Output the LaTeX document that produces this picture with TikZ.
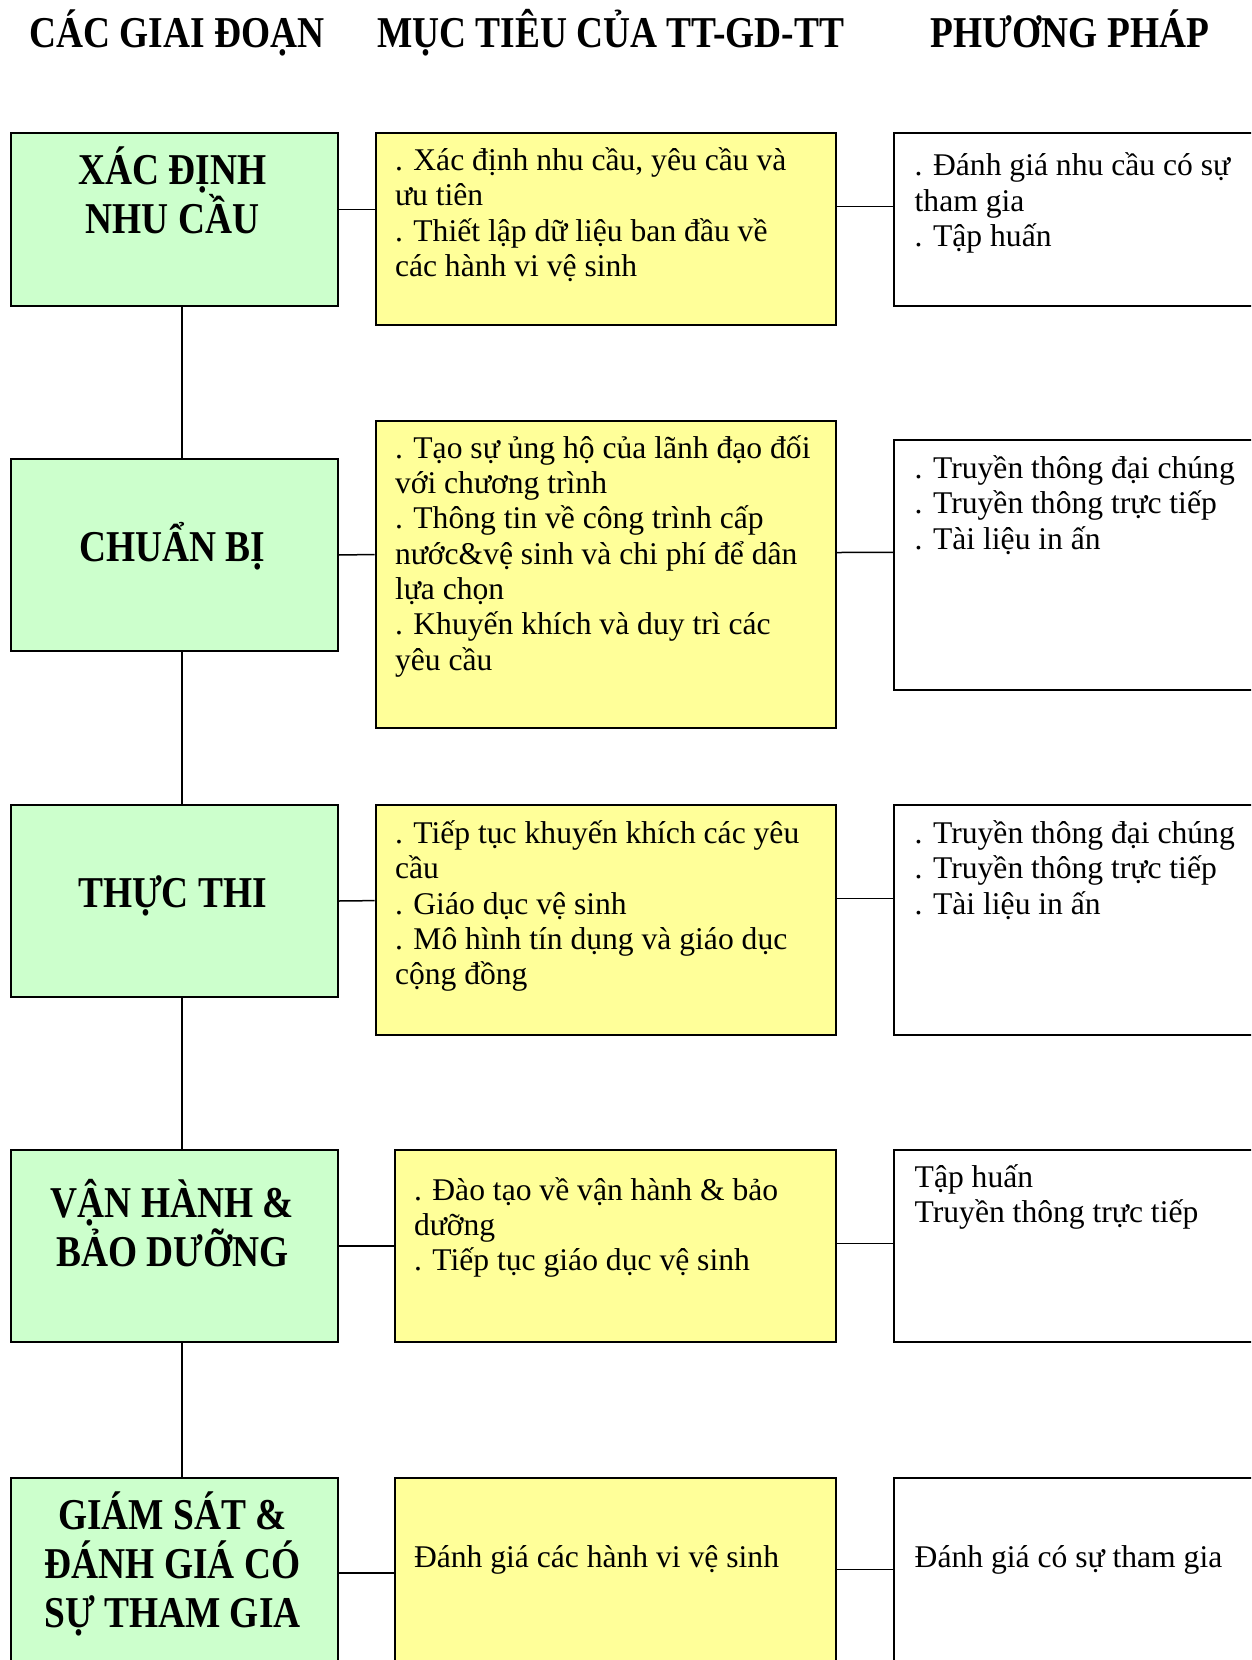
\documentclass[tikz,border=0pt]{standalone}
\usepackage{fontspec}
\setmainfont{Liberation Serif}
\newfontfamily\stagefont[FakeStretch=0.85]{Liberation Serif}
\definecolor{stagegreen}{HTML}{CCFFCC}
\definecolor{goalyellow}{HTML}{FFFF99}
\tikzset{
  box/.style={draw, line width=2pt, anchor=north west, inner sep=0pt},
  stage/.style={box, fill=stagegreen, minimum width=327pt},
  goal/.style={box, fill=goalyellow},
  method/.style={box, fill=white, minimum width=420pt},
  link/.style={line width=1.5pt},
  heading/.style={font=\stagefont\bfseries\fontsize{44}{49}\selectfont, anchor=base, inner sep=0pt},
  stagetext/.style={heading, align=center},
  bodytext/.style={font=\fontsize{31.6}{35.3}\selectfont, align=left, anchor=base west, inner sep=0pt}
}
\begin{document}
\begin{tikzpicture}[x=1pt,y=-1pt]
  \useasboundingbox (0,0) rectangle (1251,1660);
  \clip (0,0) rectangle (1251,1660);

  % column headings
  \node[heading] (h1) at (176.7,47.6) {CÁC GIAI ĐOẠN};
  \node[heading] (h2) at (610.7,47.6) {MỤC TIÊU CỦA TT-GD-TT};
  \node[heading] (h3) at (1070,47.6)  {PHƯƠNG PHÁP};

  % stages
  \node[stage, minimum height=173pt] (g1) at (9.5,132)  {};
  \node[stage, minimum height=192pt] (g2) at (9.5,458)  {};
  \node[stage, minimum height=192pt] (g3) at (9.5,804)  {};
  \node[stage, minimum height=192pt] (g4) at (9.5,1149) {};
  \node[stage, minimum height=190pt] (g5) at (9.5,1477) {};

  % goals
  \node[goal, minimum width=460pt, minimum height=192pt] (m1) at (374.7,132)  {};
  \node[goal, minimum width=460pt, minimum height=307pt] (m2) at (374.7,420)  {};
  \node[goal, minimum width=460pt, minimum height=230pt] (m3) at (374.7,804)  {};
  \node[goal, minimum width=441pt, minimum height=192pt] (m4) at (393.7,1149) {};
  \node[goal, minimum width=441pt, minimum height=190pt] (m5) at (393.7,1477) {};

  % methods
  \node[method, minimum height=173pt] (p1) at (893,132)  {};
  \node[method, minimum height=250pt] (p2) at (893,439)  {};
  \node[method, minimum height=230pt] (p3) at (893,804)  {};
  \node[method, minimum height=192pt] (p4) at (893,1149) {};
  \node[method, minimum height=190pt] (p5) at (893,1477) {};

  % texts (placed by the baseline of their last line)
  \node[stagetext] (g1t) at (172.5,233)  {XÁC ĐỊNH\\NHU CẦU};
  \node[stagetext] (g2t) at (172.5,561)  {CHUẨN BỊ};
  \node[stagetext] (g3t) at (172.5,907)  {THỰC THI};
  \node[stagetext] (g4t) at (172.5,1266) {VẬN HÀNH \&\\BẢO DƯỠNG};
  \node[stagetext] (g5t) at (172.5,1627) {GIÁM SÁT \&\\ĐÁNH GIÁ CÓ\\SỰ THAM GIA};

  \node[bodytext] (m1t) at (394.8,276.3) {. Xác định nhu cầu, yêu cầu và\\ưu tiên\\. Thiết lập dữ liệu ban đầu về\\các hành vi vệ sinh};
  \node[bodytext] (m2t) at (394.8,670.1) {. Tạo sự ủng hộ của lãnh đạo đối\\với chương trình\\. Thông tin về công trình cấp\\nước\&vệ sinh và chi phí để dân\\lựa chọn\\. Khuyến khích và duy trì các\\yêu cầu};
  \node[bodytext] (m3t) at (394.8,984.7) {. Tiếp tục khuyến khích các yêu\\cầu\\. Giáo dục vệ sinh\\. Mô hình tín dụng và giáo dục\\cộng đồng};
  \node[bodytext] (m4t) at (413.8,1270.6) {. Đào tạo về vận hành \& bảo\\dưỡng\\. Tiếp tục giáo dục vệ sinh};
  \node[bodytext] (m5t) at (413.8,1567.5) {Đánh giá các hành vi vệ sinh};

  \node[bodytext] (p1t) at (914.5,246.3) {. Đánh giá nhu cầu có sự\\tham gia\\. Tập huấn};
  \node[bodytext] (p2t) at (914.5,549)   {. Truyền thông đại chúng\\. Truyền thông trực tiếp\\. Tài liệu in ấn};
  \node[bodytext] (p3t) at (914.5,914.1) {. Truyền thông đại chúng\\. Truyền thông trực tiếp\\. Tài liệu in ấn};
  \node[bodytext] (p4t) at (914.5,1222.8) {Tập huấn\\Truyền thông trực tiếp};
  \node[bodytext] (p5t) at (914.5,1567.5) {Đánh giá có sự tham gia};

  % connectors
  \coordinate (spine) at (182,0);
  \foreach \a/\b in {g1/g2, g2/g3, g3/g4, g4/g5}
    \draw[link] (\a.south -| spine) -- (\b.north -| spine);

  \draw[link] ([yshift=10pt]g1.east) -- ([yshift=19.5pt]m1.west);
  \draw[link] (g2.east) -- ([yshift=20pt]m2.west);
  \draw[link] (g3.east) -- ([yshift=19.4pt]m3.west);
  \draw[link] (g4.east) -- (m4.west);
  \draw[link] (g5.east) -- (m5.west);

  \draw[link] ([yshift=22.7pt]m1.east) -- ([yshift=13.2pt]p1.west);
  \draw[link] ([yshift=22pt]m2.east) -- ([yshift=12.6pt]p2.west);
  \draw[link] ([yshift=21.5pt]m3.east) -- ([yshift=21.5pt]p3.west);
  \draw[link] ([yshift=2.4pt]m4.east) -- ([yshift=2.4pt]p4.west);
  \draw[link] ([yshift=3.5pt]m5.east) -- ([yshift=3.5pt]p5.west);
\end{tikzpicture}
\end{document}
